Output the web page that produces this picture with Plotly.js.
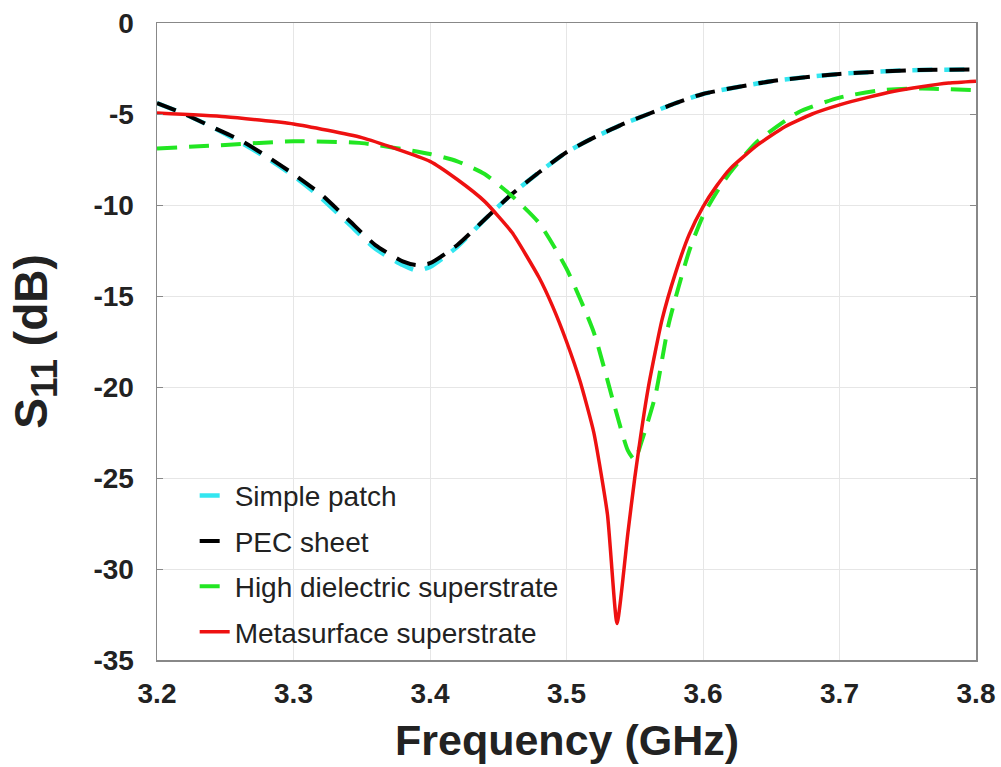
<!DOCTYPE html>
<html>
<head>
<meta charset="utf-8">
<script src="https://cdn.plot.ly/plotly-3.0.1.min.js"></script>
<style>html,body{margin:0;padding:0;background:#fff;}#chart{width:1001px;height:767px;}</style>
</head>
<body>
<div id="chart"></div>
<script>
// Frequency (GHz) and S11 (dB) values
const freqPatch = [3.20, 3.22, 3.24, 3.26, 3.28, 3.30, 3.32, 3.34, 3.36, 3.38, 3.39, 3.40, 3.42, 3.44, 3.46, 3.48, 3.50, 3.52, 3.54, 3.56, 3.58, 3.60, 3.65, 3.70, 3.75, 3.80];
const simplePatch = [-4.4, -5.0, -5.7, -6.5, -7.4, -8.4, -9.6, -11.0, -12.4, -13.3, -13.6, -13.4, -12.3, -10.8, -9.4, -8.2, -7.1, -6.3, -5.6, -5.0, -4.4, -3.9, -3.2, -2.8, -2.6, -2.55];
const pecSheet =    [-4.4, -5.0, -5.7, -6.4, -7.3, -8.3, -9.4, -10.8, -12.2, -13.1, -13.3, -13.2, -12.2, -10.8, -9.4, -8.2, -7.1, -6.3, -5.6, -5.0, -4.4, -3.9, -3.2, -2.8, -2.6, -2.55];

const freqHD = [3.20, 3.25, 3.30, 3.35, 3.40, 3.42, 3.44, 3.46, 3.48, 3.50, 3.52, 3.535, 3.545, 3.55, 3.555, 3.565, 3.575, 3.59, 3.60, 3.61, 3.62, 3.64, 3.67, 3.70, 3.73, 3.76, 3.80];
const highDielectric = [-6.9, -6.7, -6.5, -6.6, -7.2, -7.6, -8.3, -9.5, -11.0, -13.5, -17.0, -21.0, -23.5, -24.0, -23.0, -20.5, -16.5, -12.5, -10.6, -9.3, -8.2, -6.5, -4.9, -4.1, -3.7, -3.6, -3.7];

const freqMeta = [3.20, 3.25, 3.30, 3.35, 3.40, 3.42, 3.44, 3.46, 3.48, 3.49, 3.50, 3.51, 3.52, 3.53, 3.537, 3.545, 3.55, 3.56, 3.57, 3.58, 3.59, 3.60, 3.61, 3.62, 3.64, 3.66, 3.68, 3.70, 3.72, 3.74, 3.76, 3.78, 3.80];
const metasurface = [-4.95, -5.15, -5.55, -6.3, -7.6, -8.6, -9.8, -11.5, -14.0, -15.6, -17.5, -19.7, -22.5, -27.0, -33.0, -28.0, -25.0, -20.0, -16.3, -13.7, -11.6, -10.1, -8.95, -8.0, -6.7, -5.7, -5.0, -4.5, -4.1, -3.75, -3.5, -3.3, -3.2];

const xTicks = [3.2, 3.3, 3.4, 3.5, 3.6, 3.7, 3.8];
const yTicks = [0, -5, -10, -15, -20, -25, -30, -35];
const xTitle = "Frequency (GHz)";

const FONT = "Liberation Sans, Arial, Helvetica, sans-serif";
const dash = "20px,12px";

const traces = [
  {x: freqPatch, y: simplePatch, name: "Simple patch", mode: "lines", legendgroup: "a",
   line: {color: "#33e6f0", width: 4.5, dash: dash, shape: "spline", smoothing: 0.6}},
  {x: freqPatch, y: pecSheet, name: "PEC sheet", mode: "lines", legendgroup: "b",
   line: {color: "#000000", width: 4, dash: dash, shape: "spline", smoothing: 0.6}},
  {x: freqHD, y: highDielectric, name: "High dielectric superstrate", mode: "lines", legendgroup: "c",
   line: {color: "#22e622", width: 4, dash: dash, shape: "spline", smoothing: 0.6}},
  {x: freqMeta, y: metasurface, name: "Metasurface superstrate", mode: "lines", legendgroup: "d",
   line: {color: "#ee1111", width: 3.5, shape: "spline", smoothing: 0.5}}
];

const layout = {
  width: 1001, height: 767,
  paper_bgcolor: "#ffffff", plot_bgcolor: "#ffffff",
  margin: {l: 157, r: 25, t: 23, b: 107},
  font: {family: FONT, color: "#222222"},
  showlegend: true,
  legend: {
    x: 0.046, y: 0.005, xanchor: "left", yanchor: "bottom",
    bgcolor: "rgba(255,255,255,0)", borderwidth: 0,
    font: {family: FONT, size: 28, color: "#222222"},
    tracegroupgap: 6
  },
  xaxis: {
    range: [3.2, 3.8], tickvals: xTicks, ticktext: xTicks.map(v => v.toFixed(1)),
    showgrid: true, gridcolor: "#e6e6e6", gridwidth: 1,
    showline: true, linecolor: "#888888", linewidth: 1.5, mirror: true,
    ticks: "outside", ticklen: 8, tickcolor: "rgba(0,0,0,0)",
    zeroline: false,
    tickfont: {family: FONT, size: 28, color: "#222222", weight: "bold"}
  },
  yaxis: {
    range: [-35, 0], tickvals: yTicks, ticktext: yTicks.map(String),
    showgrid: true, gridcolor: "#e6e6e6", gridwidth: 1,
    showline: true, linecolor: "#888888", linewidth: 1.5, mirror: "ticks",
    ticks: "inside", ticklen: 6, tickcolor: "#888888",
    zeroline: false, ticklabelstandoff: 16,
    tickfont: {family: FONT, size: 28, color: "#222222", weight: "bold"},
    title: {text: "<b>S<sub><span style='font-size:37px'>11</span></sub> (dB)</b>", font: {family: FONT, size: 46, color: "#222222"}, standoff: 31}
  },
  annotations: [{
    text: "<b>" + xTitle + "</b>", xref: "paper", yref: "paper", x: 0.5, y: -0.1664,
    xanchor: "center", yanchor: "bottom", showarrow: false,
    font: {family: FONT, size: 43, color: "#222222"}
  }]
};

Plotly.newPlot("chart", traces, layout, {displayModeBar: false, staticPlot: true});
</script>
</body>
</html>
